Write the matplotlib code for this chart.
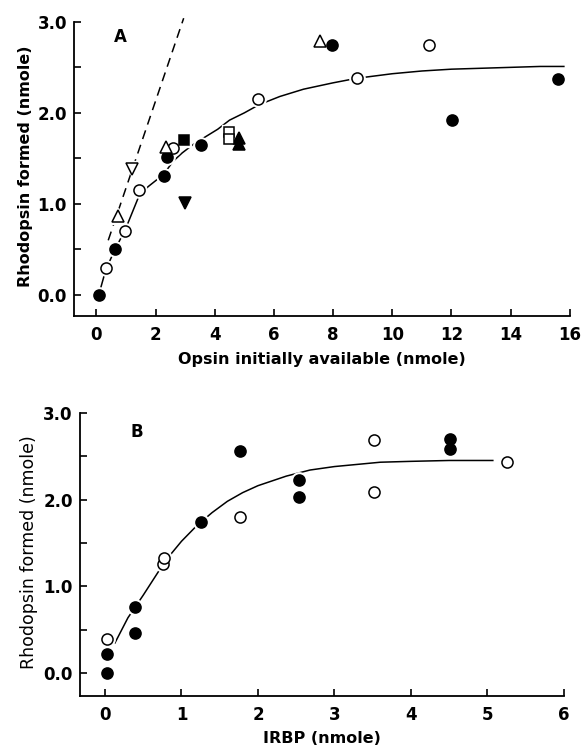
import matplotlib

matplotlib.use("Agg")
import matplotlib.pyplot as plt
from matplotlib.ticker import MultipleLocator

plt.rcParams["font.family"] = ["DejaVu Sans"]

# ---- panel A: opsin initially available vs rhodopsin formed ----
a_fill_circ_x = [0.08, 0.63, 2.28, 2.40, 3.53, 7.98, 12.03, 15.60]
a_fill_circ_y = [0.00, 0.50, 1.31, 1.52, 1.65, 2.75, 1.92, 2.37]
a_open_circ_x = [0.32, 0.98, 1.43, 2.60, 5.47, 8.82, 11.23]
a_open_circ_y = [0.30, 0.70, 1.15, 1.61, 2.15, 2.38, 2.75]
a_open_tri_x = [0.72, 2.35, 7.55]
a_open_tri_y = [0.87, 1.63, 2.79]
a_open_dtri_x = [1.20]
a_open_dtri_y = [1.38]
a_fill_dtri_x = [3.01]
a_fill_dtri_y = [1.01]
a_fill_sq_x = [2.97]
a_fill_sq_y = [1.70]
a_open_sq_x = [4.49, 4.49]
a_open_sq_y = [1.79, 1.71]
a_fill_tri_x = [4.83, 4.83]
a_fill_tri_y = [1.72, 1.66]

# fitted curve and initial-slope line
a_curve_x = [0.08, 0.32, 0.63, 0.98, 1.43, 1.75, 2.10, 2.35, 2.60, 2.90, 3.30,
             3.70, 4.10, 4.50, 5.00, 5.50, 6.20, 7.00, 8.00, 8.80, 10.0, 11.0,
             12.0, 13.0, 14.0, 15.0, 15.8]
a_curve_y = [0.00, 0.28, 0.50, 0.72, 1.08, 1.19, 1.28, 1.36, 1.47, 1.56, 1.66,
             1.74, 1.82, 1.92, 2.00, 2.09, 2.18, 2.26, 2.33, 2.38, 2.43, 2.46,
             2.48, 2.49, 2.50, 2.51, 2.51]
a_line_x = [0.40, 2.95]
a_line_y = [0.60, 3.04]

# ---- panel B: IRBP vs rhodopsin formed ----
b_fill_x = [0.02, 0.02, 0.39, 0.39, 1.26, 1.76, 2.53, 2.53, 4.51, 4.51]
b_fill_y = [0.00, 0.22, 0.46, 0.76, 1.74, 2.56, 2.22, 2.03, 2.70, 2.58]
b_open_x = [0.02, 0.76, 0.77, 1.76, 3.52, 3.52, 5.26]
b_open_y = [0.39, 1.26, 1.33, 1.80, 2.68, 2.09, 2.43]

b_curve_x = [0.13, 0.30, 0.50, 0.72, 0.85, 1.00, 1.20, 1.40, 1.60, 1.80, 2.00,
             2.37, 2.68, 3.00, 3.60, 4.00, 4.50, 5.07]
b_curve_y = [0.35, 0.64, 0.90, 1.20, 1.36, 1.52, 1.70, 1.85, 1.98, 2.08, 2.16,
             2.27, 2.34, 2.38, 2.43, 2.44, 2.45, 2.45]

TICK_FONT = dict(fontsize=12, fontweight="bold")


def markers(ax, xs, ys, marker, filled, ms):
    # white halo first so the curve looks broken around each symbol
    ax.plot(xs, ys, ls="none", marker=marker, ms=ms + 3, mfc="white",
            mec="white", zorder=3)
    ax.plot(xs, ys, ls="none", marker=marker, ms=ms,
            mfc="black" if filled else "white", mec="black", mew=1.1, zorder=4)


def style(ax, xlim, ylim, xstep):
    ax.set_xlim(*xlim)
    ax.set_ylim(*ylim)
    for side in ("top", "right"):
        ax.spines[side].set_visible(False)
    for side in ("left", "bottom"):
        ax.spines[side].set_linewidth(1.3)
    ax.spines["bottom"].set_bounds(*xlim)
    ax.spines["left"].set_bounds(ylim[0], 3.0)
    ax.yaxis.set_minor_locator(MultipleLocator(0.5))
    ax.xaxis.set_major_locator(MultipleLocator(xstep))
    ax.tick_params(which="both", direction="in", length=5, width=1.2)
    ax.tick_params(axis="y", pad=5)
    ax.tick_params(axis="x", pad=7)
    ax.set_yticks([0, 1, 2, 3])
    ax.set_yticklabels(["0.0", "1.0", "2.0", "3.0"], **TICK_FONT)


fig = plt.figure(figsize=(5.82, 7.52), dpi=100)

# panel A
ax = fig.add_axes([0.127, 0.580, 0.852, 0.397])
style(ax, (-0.76, 16.0), (-0.23, 3.05), 2)
ax.set_xticks(range(0, 17, 2))
ax.set_xticklabels([str(v) for v in range(0, 17, 2)], **TICK_FONT)
ax.plot(a_line_x, a_line_y, color="black", lw=1.1, ls=(0, (6, 4)), zorder=2)
ax.plot(a_curve_x, a_curve_y, color="black", lw=1.1, zorder=2)
markers(ax, a_fill_circ_x, a_fill_circ_y, "o", True, 8)
markers(ax, a_open_circ_x, a_open_circ_y, "o", False, 8)
markers(ax, a_open_tri_x, a_open_tri_y, "^", False, 8.5)
markers(ax, a_open_dtri_x, a_open_dtri_y, "v", False, 8.5)
markers(ax, a_fill_dtri_x, a_fill_dtri_y, "v", True, 8.5)
markers(ax, a_fill_tri_x, a_fill_tri_y, "^", True, 8.5)
markers(ax, a_open_sq_x, a_open_sq_y, "s", False, 7.5)
markers(ax, a_fill_sq_x, a_fill_sq_y, "s", True, 7.5)
ax.text(0.6, 2.78, "A", fontsize=12, fontweight="bold")
ax.set_xlabel("Opsin initially available (nmole)", fontsize=11.5,
              fontweight="bold", labelpad=6)
ax.set_ylabel("Rhodopsin formed (nmole)", fontsize=11.5, fontweight="bold",
              labelpad=3)

# panel B
bx = fig.add_axes([0.137, 0.0745, 0.832, 0.3825])
style(bx, (-0.33, 6.0), (-0.26, 3.05), 1)
bx.set_xticks(range(0, 7))
bx.set_xticklabels([str(v) for v in range(0, 7)], **TICK_FONT)
bx.plot(b_curve_x, b_curve_y, color="black", lw=1.1, zorder=2)
markers(bx, b_fill_x, b_fill_y, "o", True, 8)
markers(bx, b_open_x, b_open_y, "o", False, 8)
bx.text(0.33, 2.72, "B", fontsize=12, fontweight="bold")
bx.set_xlabel("IRBP (nmole)", fontsize=11.5, fontweight="bold", labelpad=5)
bx.set_ylabel("Rhodopsin formed (nmole)", fontsize=12.5, labelpad=4)

fig.savefig("out.png", dpi=100)
